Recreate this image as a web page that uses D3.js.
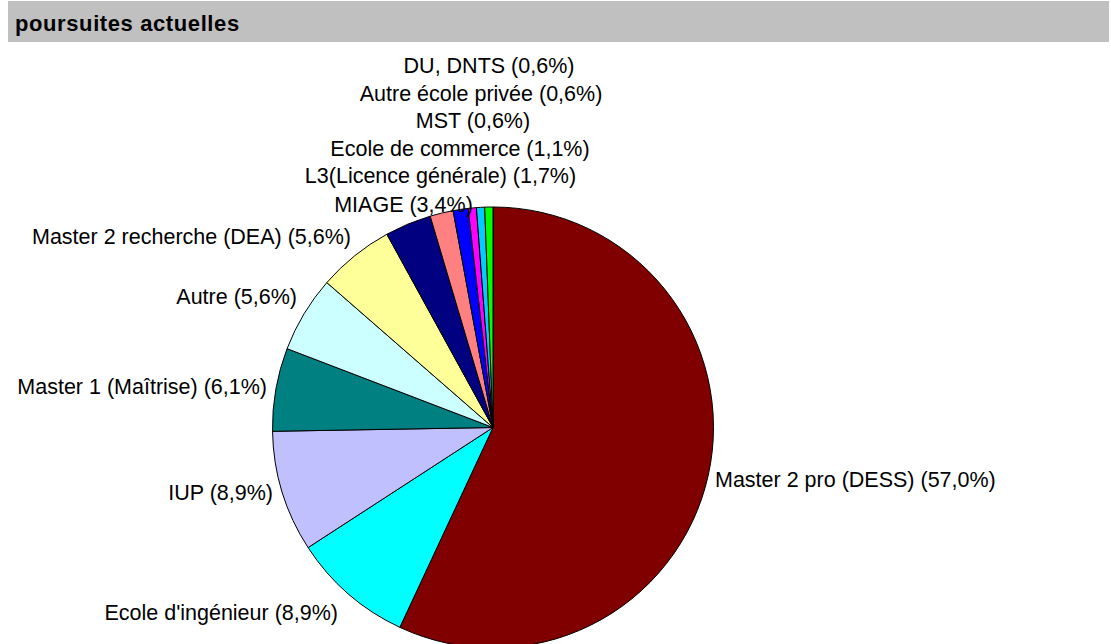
<!DOCTYPE html>
<html>
<head>
<meta charset="utf-8">
<script src="https://cdn.jsdelivr.net/npm/d3@7"></script>
<style>
  html, body { margin: 0; padding: 0; background: #ffffff; }
  svg { display: block; }
  text { font-family: "Liberation Sans", Arial, sans-serif; }
</style>
</head>
<body>
<svg id="chart" width="1111" height="644"></svg>
<script>
// Current follow-up studies, share of respondents (%)
const categories = [
  "Master 2 pro (DESS)",
  "Ecole d'ingénieur",
  "IUP",
  "Master 1 (Maîtrise)",
  "Autre",
  "Master 2 recherche (DEA)",
  "MIAGE",
  "L3(Licence générale)",
  "Ecole de commerce",
  "MST",
  "Autre école privée",
  "DU, DNTS"
];
const values = [57.0, 8.9, 8.9, 6.1, 5.6, 5.6, 3.4, 1.7, 1.1, 0.6, 0.6, 0.6];
const sliceColors = [
  "#800000", "#00FFFF", "#C0C0FF", "#008080", "#CCFFFF", "#FFFF99",
  "#000080", "#FF8080", "#0000FF", "#FF00FF", "#00CCFF", "#00FF00"
];

// Label placement: text anchor and baseline for each category's label
const labelLayout = [
  { anchor: "start",  x: 715,   y: 487 },
  { anchor: "end",    x: 338,   y: 620 },
  { anchor: "end",    x: 273,   y: 500 },
  { anchor: "end",    x: 267,   y: 394 },
  { anchor: "end",    x: 297,   y: 304 },
  { anchor: "end",    x: 351,   y: 244 },
  { anchor: "middle", x: 403.5, y: 212 },
  { anchor: "middle", x: 440.5, y: 183 },
  { anchor: "middle", x: 460,   y: 156 },
  { anchor: "middle", x: 473,   y: 128 },
  { anchor: "middle", x: 481,   y: 101 },
  { anchor: "middle", x: 489,   y: 73 }
];

const fmt = v => v.toFixed(1).replace(".", ",") + "%";

const svg = d3.select("#chart");

// Title band
svg.append("rect")
  .attr("x", 8).attr("y", 1)
  .attr("width", 1101).attr("height", 41)
  .attr("fill", "#C0C0C0");
svg.append("text")
  .attr("x", 15).attr("y", 31)
  .attr("font-size", 22)
  .attr("font-weight", "bold")
  .attr("letter-spacing", 0.6)
  .attr("fill", "#000")
  .text("poursuites actuelles");

// Pie
const cx = 493, cy = 427.5, radius = 220.5;
const pie = d3.pie().sort(null).value(d => d.value);
const arc = d3.arc().innerRadius(0).outerRadius(radius);
const rows = categories.map((c, i) => ({ name: c, value: values[i], color: sliceColors[i] }));

const g = svg.append("g").attr("transform", `translate(${cx},${cy})`);
g.selectAll("path")
  .data(pie(rows))
  .join("path")
  .attr("d", arc)
  .attr("fill", d => d.data.color)
  .attr("stroke", "#000")
  .attr("stroke-width", 1)
  .attr("stroke-linejoin", "round");

// Labels
svg.append("g")
  .selectAll("text")
  .data(rows)
  .join("text")
  .attr("x", (d, i) => labelLayout[i].x)
  .attr("y", (d, i) => labelLayout[i].y)
  .attr("text-anchor", (d, i) => labelLayout[i].anchor)
  .attr("font-size", 21.5)
  .attr("fill", "#000")
  .text(d => `${d.name} (${fmt(d.value)})`);
</script>
</body>
</html>
